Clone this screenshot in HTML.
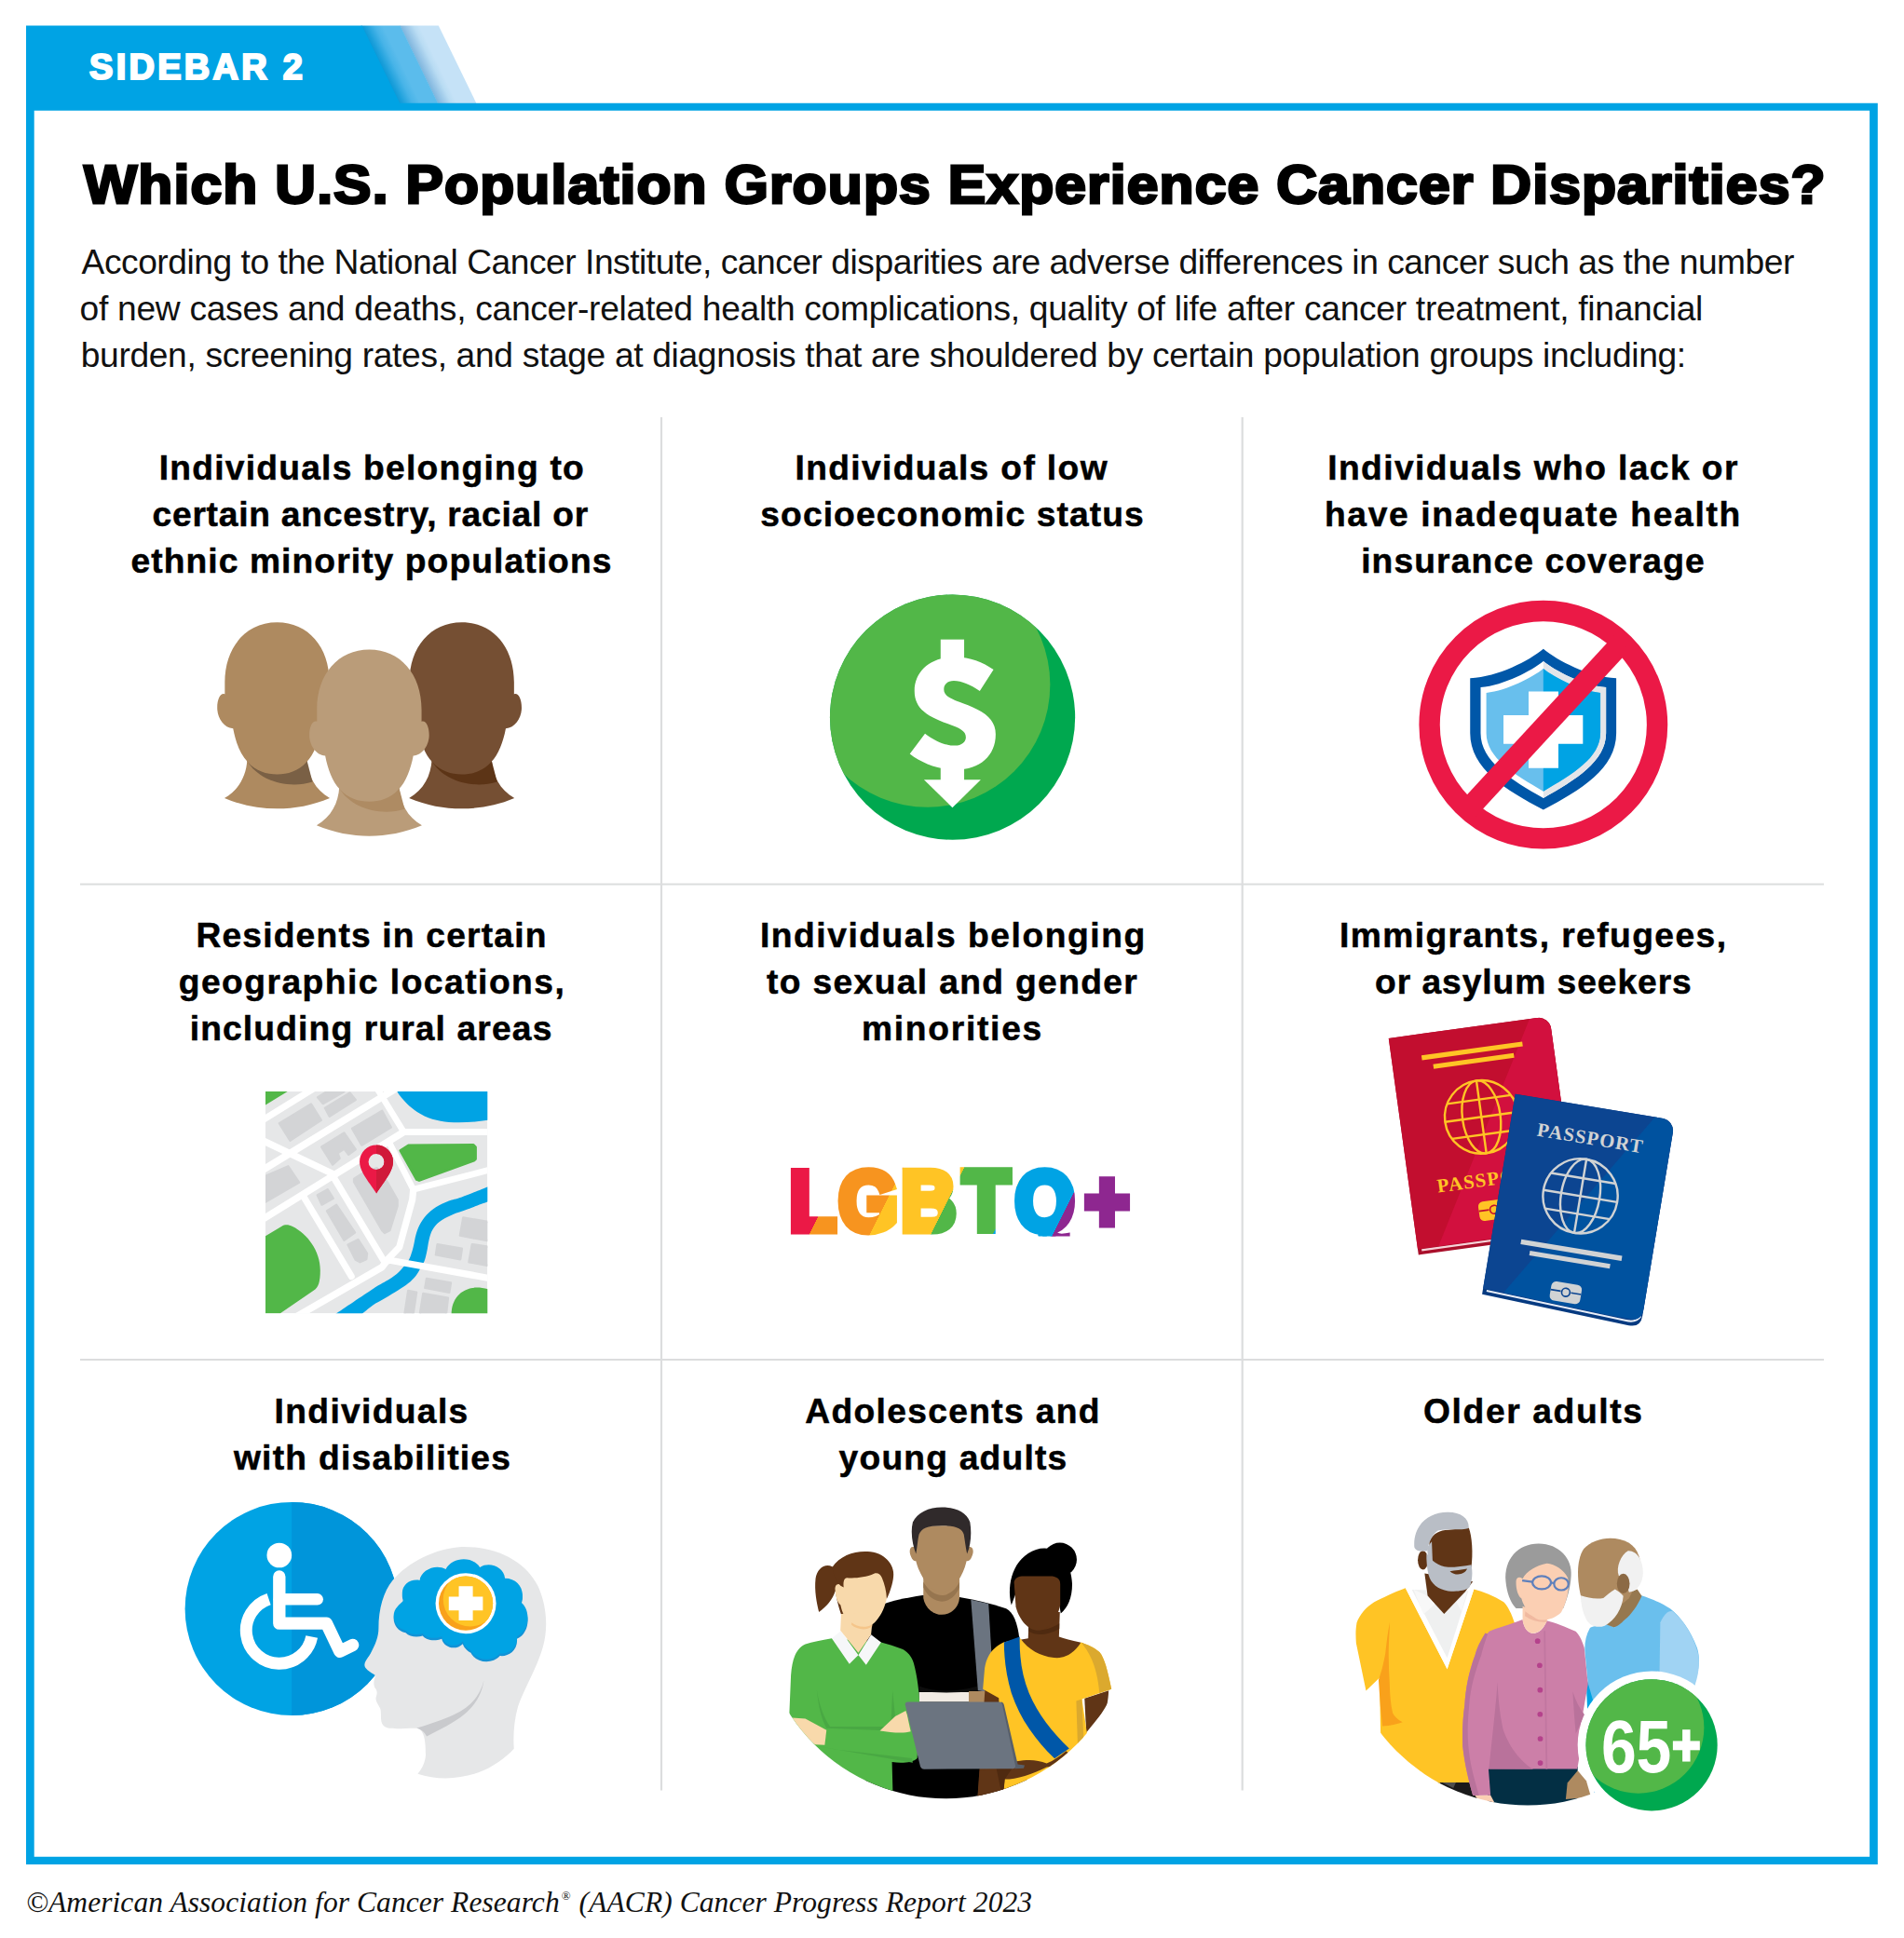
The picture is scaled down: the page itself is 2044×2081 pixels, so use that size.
<!DOCTYPE html>
<html lang="en">
<head>
<meta charset="utf-8">
<title>Sidebar 2 - Which U.S. Population Groups Experience Cancer Disparities?</title>
<style>
html,body{margin:0;padding:0;background:#fff;}
body{width:2044px;height:2081px;position:relative;overflow:hidden;font-family:"Liberation Sans",sans-serif;color:#000;}
.abs{position:absolute;}
#bg{position:absolute;left:0;top:0;}
.tab{position:absolute;left:96px;top:42.5px;font-weight:bold;font-size:38px;line-height:58px;color:#fff;white-space:nowrap;letter-spacing:3.28px;-webkit-text-stroke:2.2px #fff;}
h1{position:absolute;margin:0;left:89.8px;top:159.6px;font-weight:bold;font-size:58px;line-height:76px;white-space:nowrap;letter-spacing:1.06px;-webkit-text-stroke:2.8px #000;transform:scaleX(1.045);transform-origin:0 0;}
.intro{position:absolute;left:87px;top:255.5px;margin:0;font-size:37.2px;line-height:50px;white-space:nowrap;color:#111;letter-spacing:-0.48px;}
.intro span{display:block;}
.t{position:absolute;width:624px;text-align:center;font-weight:bold;font-size:37.2px;line-height:49.9px;white-space:nowrap;-webkit-text-stroke:0.5px #000;}
.t span{display:block;position:relative;}
.c1{left:86px}.c2{left:710px}.c3{left:1333.5px}
.r1{top:478.2px}.r2{top:979.8px}.r3{top:1491px}
.foot{position:absolute;left:28px;top:2022.5px;font-family:"Liberation Serif",serif;font-style:italic;font-size:31.5px;line-height:40px;white-space:nowrap;color:#111;letter-spacing:0.07px;}
.foot sup{font-size:13px;font-style:normal;vertical-align:baseline;position:relative;top:-12.5px;line-height:0;margin:0 1px 0 2px;}
svg{display:block;overflow:visible;}
.ic{position:absolute;}
</style>
</head>
<body>
<svg id="bg" width="2044" height="2081" viewBox="0 0 2044 2081">
  <defs>
    <linearGradient id="tg1" x1="0" y1="0" x2="1" y2="0">
      <stop offset="0" stop-color="#0b98d6"/><stop offset="0.1" stop-color="#1a9fdb"/><stop offset="0.35" stop-color="#48b4e8"/><stop offset="0.55" stop-color="#5bbcec"/><stop offset="1" stop-color="#5bbcec"/>
    </linearGradient>
    <linearGradient id="tg2" x1="0" y1="0" x2="1" y2="0">
      <stop offset="0" stop-color="#7db5dd"/><stop offset="0.12" stop-color="#93c2e5"/><stop offset="0.35" stop-color="#b9dcf3"/><stop offset="0.5" stop-color="#c5e2f7"/><stop offset="1" stop-color="#c5e2f7"/>
    </linearGradient>
  </defs>
  <!-- tab -->
  <g transform="translate(0,27.4) skewX(25.93)">
    <rect x="429.2" y="0" width="41.6" height="84" fill="url(#tg2)"/>
    <rect x="387.6" y="0" width="42" height="84" fill="url(#tg1)"/>
  </g>
  <polygon points="28,27.4 388.5,27.4 429.4,111.2 28,111.2" fill="#00a3e4"/>
  <!-- frame -->
  <path fill="#00a3e4" fill-rule="evenodd" d="M28,110.7H2015.8V2002H28Z M36.7,118.8V1993.7H2007.1V118.8Z"/>
  <!-- grid -->
  <g stroke="#dcddde" stroke-width="2.2">
    <line x1="710" y1="448" x2="710" y2="1922.5"/>
    <line x1="1333.7" y1="448" x2="1333.7" y2="1922.5"/>
    <line x1="86" y1="949.5" x2="1958" y2="949.5"/>
    <line x1="86" y1="1460" x2="1958" y2="1460"/>
  </g>
</svg>
<div class="tab">SIDEBAR 2</div>
<h1>Which U.S. Population Groups Experience Cancer Disparities?</h1>
<p class="intro"><span id="p1" style="letter-spacing:-0.473px;margin-left:0.6px">According to the National Cancer Institute, cancer disparities are adverse differences in cancer such as the number</span><span id="p2" style="letter-spacing:-0.299px;margin-left:-1.4px">of new cases and deaths, cancer-related health complications, quality of life after cancer treatment, financial</span><span id="p3" style="letter-spacing:-0.338px;margin-left:-0.3px">burden, screening rates, and stage at diagnosis that are shouldered by certain population groups including:</span></p>
<div class="t c1 r1">
<span style="letter-spacing:1.23px;left:1.4px">Individuals belonging to</span>
<span style="letter-spacing:0.76px;left:-0.3px">certain ancestry, racial or</span>
<span style="letter-spacing:1.09px;left:1.0px">ethnic minority populations</span>
</div>
<div class="t c2 r1">
<span style="letter-spacing:1.36px;left:-0.3px">Individuals of low</span>
<span style="letter-spacing:1.10px;left:0.6px">socioeconomic status</span>
</div>
<div class="t c3 r1">
<span style="letter-spacing:1.41px;left:0.5px">Individuals who lack or</span>
<span style="letter-spacing:1.67px;left:0.4px">have inadequate health</span>
<span style="letter-spacing:1.13px;left:0.5px">insurance coverage</span>
</div>
<div class="t c1 r2">
<span style="letter-spacing:1.19px;left:1.0px">Residents in certain</span>
<span style="letter-spacing:1.49px;left:1.5px">geographic locations,</span>
<span style="letter-spacing:1.14px;left:0.6px">including rural areas</span>
</div>
<div class="t c2 r2">
<span style="letter-spacing:1.55px;left:1.3px">Individuals belonging</span>
<span style="letter-spacing:1.36px;left:0.6px">to sexual and gender</span>
<span style="letter-spacing:1.73px;left:0.5px">minorities</span>
</div>
<div class="t c3 r2">
<span style="letter-spacing:1.43px;left:0.7px">Immigrants, refugees,</span>
<span style="letter-spacing:0.94px;left:0.9px">or asylum seekers</span>
</div>
<div class="t c1 r3">
<span style="letter-spacing:1.34px;left:1.1px">Individuals</span>
<span style="letter-spacing:1.26px;left:2.1px">with disabilities</span>
</div>
<div class="t c2 r3">
<span style="letter-spacing:1.33px;left:1.1px">Adolescents and</span>
<span style="letter-spacing:1.20px;left:1.5px">young adults</span>
</div>
<div class="t c3 r3">
<span style="letter-spacing:1.62px;left:0.8px">Older adults</span>
</div>
<svg id="icons" class="abs" style="left:0;top:0" width="2044" height="2081" viewBox="0 0 2044 2081">
<!-- icon 1: three heads -->
<defs>
  <path id="hd-face" d="M0,0 C176,0 297,140 297,340 L297,408 C318,398 340,430 340,485 C340,540 305,598 250,603 C235,680 210,750 167,793 C120,845 60,863 0,863 C-60,863 -120,845 -167,793 C-210,750 -235,680 -250,603 C-305,598 -340,540 -340,485 C-340,430 -318,398 -297,408 L-297,340 C-297,140 -176,0 0,0Z"/>
  <path id="hd-neck" d="M-170,780 L170,780 C175,870 215,950 299,998 C200,1040 100,1058 0,1058 C-100,1058 -200,1040 -299,998 C-215,950 -175,870 -170,780Z"/>
  <path id="hd-shadow" d="M-170,786 C-110,895 60,950 201,905 L168,780Z"/>
</defs>
<g transform="translate(297.5,668.3) scale(0.18907)">
  <use href="#hd-neck" fill="#ae8a60"/><use href="#hd-shadow" fill="#7a6045"/><use href="#hd-face" fill="#ae8a60"/>
</g>
<g transform="translate(495.7,668.3) scale(0.18907)">
  <use href="#hd-neck" fill="#754f33"/><use href="#hd-shadow" fill="#5c3416"/><use href="#hd-face" fill="#754f33"/>
</g>
<g transform="translate(396.4,697.6) scale(0.18907)">
  <use href="#hd-neck" fill="#ba9c79"/><use href="#hd-shadow" fill="#ae8b63"/><use href="#hd-face" fill="#ba9c79"/>
</g>
<!-- icon 2: dollar down -->
<defs>
  <clipPath id="dl-clip"><circle cx="936" cy="920" r="864"/></clipPath>
</defs>
<g transform="translate(880,630) scale(0.15231)">
  <circle cx="936" cy="920" r="864" fill="#00a84f"/>
  <circle cx="760" cy="690" r="864" fill="#52b748" clip-path="url(#dl-clip)"/>
  <g fill="#fff">
    <rect x="852" y="372" width="166" height="160"/>
    <rect x="852" y="1260" width="166" height="112"/>
    <polygon points="735,1360 1135,1360 935,1557"/>
    <path d="M1225,585 L1128,735 C1060,690 1000,663 945,663 C900,663 875,690 875,722 C875,770 920,790 1010,822 C1150,872 1240,930 1240,1040 C1240,1190 1130,1290 960,1290 C840,1290 720,1245 635,1178 L742,1035 C810,1085 880,1120 955,1120 C1000,1120 1030,1095 1030,1062 C1030,1015 985,995 900,965 C760,915 668,860 668,735 C668,590 790,495 955,495 C1060,495 1150,530 1225,585Z"/>
  </g>
</g>
<!-- icon 3: no health insurance -->
<defs>
  <clipPath id="sh-r"><rect x="964" y="300" width="700" height="1400"/></clipPath>
  <path id="sh-mid" d="M964,492 C880,560 690,660 522,677 L522,1000 C522,1200 740,1330 964,1458 C1188,1330 1406,1200 1406,1000 L1406,677 C1238,660 1048,560 964,492Z"/>
  <path id="sh-in" d="M964,545 C890,605 710,700 562,715 L562,1000 C562,1175 760,1290 964,1410 C1168,1290 1366,1175 1366,1000 L1366,715 C1218,700 1038,605 964,545Z"/>
</defs>
<g transform="translate(1510,635) scale(0.15231)">
  <path fill="#0057a8" d="M964,405 C860,490 650,600 448,612 L448,1000 C448,1250 700,1400 964,1540 C1228,1400 1478,1250 1478,1000 L1478,612 C1278,600 1068,490 964,405Z"/>
  <use href="#sh-mid" fill="#fff"/>
  <use href="#sh-mid" fill="#e3e5e9" clip-path="url(#sh-r)"/>
  <use href="#sh-in" fill="#68bfed"/>
  <use href="#sh-in" fill="#00a3e4" clip-path="url(#sh-r)"/>
  <path fill="#fff" d="M860,705H1070V873H1243V1075H1070V1245H860V1075H683V873H860Z"/>
  <circle cx="964" cy="940" r="802.5" fill="none" stroke="#eb1946" stroke-width="147"/>
  <line x1="1516" y1="362" x2="432" y2="1538" stroke="#eb1946" stroke-width="150"/>
</g>
<!-- icon 4: map -->
<defs><clipPath id="mp-clip"><rect x="285.0" y="1172.1" width="238.3" height="238.2"/></clipPath><clipPath id="mp-pr"><rect x="404.05" y="1220" width="30" height="70"/></clipPath></defs>
<g clip-path="url(#mp-clip)">
<rect x="285.0" y="1172.1" width="238.3" height="238.2" fill="#e6e7e8"/>
<g fill="#d3d4d6" stroke="#d3d4d6" stroke-width="2.4" stroke-linejoin="round">
<polygon points="299.8,1206.2 333.9,1185.4 344.8,1202.8 311.4,1224.7"/>
<polygon points="341.1,1178.2 351.0,1172.1 369.4,1172.1 346.6,1185.1"/>
<polygon points="348.9,1189.8 375.6,1173.5 381.7,1181.0 353.7,1198.7"/>
<polygon points="378.1,1211.9 410.2,1192.8 419.8,1210.5 388.3,1229.6"/>
<polygon points="345.2,1231.5 369.4,1216.5 381.7,1234.2 374.2,1239.7 369.4,1233.5 362.6,1238.3 364.6,1243.8 357.1,1250.6"/>
<polygon points="280.0,1265.0 309.4,1252.3 321.0,1269.7 280.0,1293.5"/>
<polygon points="340.8,1283.4 351.7,1277.2 357.8,1286.8 345.5,1293.6"/>
<polygon points="351.0,1300.3 361.2,1293.8 381.0,1323.5 369.4,1331.7"/>
<polygon points="373.5,1336.5 384.4,1331.0 394.0,1346.0 393.3,1352.2 386.5,1355.2 381.7,1352.8"/>
<polygon points="380.1,1265.8 388.3,1260.4 404.7,1254.2 415.7,1269.2 426.6,1288.4 426.6,1295.2 418.4,1321.1 412.9,1323.9 410.2,1321.1 380.1,1269.2"/>
<polygon points="497.3,1307.5 530.0,1313.0 530.0,1333.5 493.9,1326.6"/>
<polygon points="469.6,1336.1 495.9,1340.6 494.2,1352.2 467.9,1347.4"/>
<polygon points="506.8,1336.1 530.0,1339.5 530.0,1360.0 503.4,1355.2"/>
<polygon points="458.0,1373.0 484.0,1377.4 482.3,1387.7 456.3,1382.9"/>
<polygon points="438.2,1386.0 447.1,1387.7 443.0,1415.0 433.8,1415.0"/>
<polygon points="454.3,1389.0 480.9,1393.8 478.5,1415.0 450.2,1415.0"/>
</g>
<g fill="#00a3e4">
<path d="M424.9,1170 C431,1180 440,1189 447.8,1193.9 C458,1200.5 470,1204 481.9,1204.9 C495,1205.8 510,1205 525,1202.6 L525,1170Z"/>
<path d="M525.0,1273.8 C520.1,1275.7 502.8,1282.8 495.6,1285.4 C488.4,1288.0 486.4,1287.7 481.9,1289.5 C477.3,1291.3 472.3,1293.5 468.3,1296.0 C464.3,1298.5 461.0,1301.3 458.0,1304.5 C455.0,1307.7 452.4,1311.7 450.5,1315.3 C448.6,1318.9 447.4,1322.8 446.4,1326.2 C445.4,1329.6 445.1,1332.8 444.4,1335.8 C443.7,1338.8 443.2,1341.3 442.3,1344.0 C441.4,1346.7 440.6,1349.7 439.2,1352.2 C437.8,1354.8 436.3,1356.7 434.1,1359.3 C431.9,1361.9 429.3,1365.1 425.9,1367.9 C422.5,1370.7 418.0,1373.4 413.7,1376.1 C409.4,1378.8 408.9,1378.4 400.0,1384.2 C391.1,1390.0 366.8,1406.5 360.2,1411.0 L388.5,1411.0 C390.4,1409.5 395.8,1404.6 400.0,1401.7 C404.2,1398.8 409.1,1396.5 413.7,1393.8 C418.2,1391.1 423.2,1388.2 427.3,1385.6 C431.4,1383.0 435.0,1380.7 438.2,1378.1 C441.4,1375.5 444.3,1372.5 446.4,1369.9 C448.5,1367.3 449.5,1365.1 450.9,1362.7 C452.3,1360.3 453.9,1357.8 454.9,1355.6 C455.9,1353.4 456.3,1352.0 457.0,1349.4 C457.7,1346.8 458.4,1343.1 459.0,1339.9 C459.6,1336.7 459.9,1333.5 460.8,1330.3 C461.7,1327.1 462.4,1323.9 464.2,1320.8 C466.0,1317.7 468.2,1314.6 471.7,1311.9 C475.2,1309.2 480.2,1306.7 485.3,1304.4 C490.4,1302.1 495.8,1300.6 502.4,1298.2 C509.0,1295.8 521.2,1291.4 525.0,1290.0 Z"/>
</g>
<g fill="#52b748">
<polygon points="285.0,1172.1 308.7,1172.1 285.0,1186.4"/>
<polygon stroke="#52b748" stroke-width="3" stroke-linejoin="round" points="430.0,1235.4 438.6,1229.9 508.2,1229.6 510.4,1231.8 510.4,1244.6 508.6,1246.2 450.0,1267.4 447.4,1266.4"/>
<path d="M280,1330.3 L302.5,1316.7 C305.5,1314.9 309.5,1314.6 314.1,1317 C330,1325 343.8,1343 343.8,1364 C343.8,1376 342,1382.5 337,1385.6 L300.5,1410.5 L280,1410.5Z"/>
<path d="M484.6,1411 C484.6,1395 495,1382.6 512,1382.6 C516,1382.6 520,1383.3 525,1384.4 L525,1411Z"/>
</g>
<g fill="none" stroke="#fff" stroke-linejoin="round" stroke-linecap="round">
<polyline points="270.0,1210.1 355.1,1157.5" stroke-width="7.0"/>
<polyline points="270.0,1263.6 419.8,1172.1 428.0,1167.0" stroke-width="7.6"/>
<polyline points="400.0,1161.8 406.8,1172.1 433.4,1215.5" stroke-width="6.6"/>
<polyline points="433.4,1215.5 530.0,1215.5" stroke-width="6.9"/>
<polyline points="270.0,1316.6 433.4,1215.5" stroke-width="7.4"/>
<polyline points="270.0,1218.9 359.4,1261.5" stroke-width="7.4"/>
<polyline points="356.6,1261.5 372.5,1288.0 411.2,1352.5 414.0,1355.0" stroke-width="7.2"/>
<polyline points="324.7,1282.9 377.3,1370.6" stroke-width="7.0"/>
<polyline points="310.0,1418.5 410.0,1360.7 414.0,1355.5" stroke-width="7.4"/>
<polyline points="414.0,1354.5 418.4,1353.2 530.0,1373.4" stroke-width="7.2"/>
<polyline points="443.7,1277.2 442.7,1288.0 428.7,1339.2 414.0,1354.5" stroke-width="7.2"/>
<polyline points="417.7,1226.5 443.7,1277.2" stroke-width="6.6"/>
<polyline points="443.7,1277.2 530.0,1255.0" stroke-width="6.8"/>
</g>
</g>
<path fill="#eb1946" fill-rule="evenodd" d="M404.05,1281.6 C399,1272.5 386.05,1259 386.05,1247.4 A18,18 0 1 1 422.05,1247.4 C422.05,1259 409.1,1272.5 404.05,1281.6Z M404.05,1238.9 A8.5,8.5 0 1 0 404.05,1255.9 A8.5,8.5 0 1 0 404.05,1238.9Z"/>
<path fill="#d01a3a" fill-rule="evenodd" clip-path="url(#mp-pr)" d="M404.05,1281.6 C399,1272.5 386.05,1259 386.05,1247.4 A18,18 0 1 1 422.05,1247.4 C422.05,1259 409.1,1272.5 404.05,1281.6Z M404.05,1238.9 A8.5,8.5 0 1 0 404.05,1255.9 A8.5,8.5 0 1 0 404.05,1238.9Z"/>
<!-- icon 5: LGBTQ+ -->
<defs>
  <linearGradient id="lg-grad" gradientUnits="userSpaceOnUse" x1="0" y1="0" x2="1698.1" y2="943.4">
    <stop offset="0" stop-color="#eb1946"/><stop offset="0.76565" stop-color="#eb1946"/>
    <stop offset="0.76565" stop-color="#f7941f"/><stop offset="0.7982" stop-color="#f7941f"/>
    <stop offset="0.7982" stop-color="#ffc425"/><stop offset="0.8311" stop-color="#ffc425"/>
    <stop offset="0.8311" stop-color="#52b748"/><stop offset="0.86415" stop-color="#52b748"/>
    <stop offset="0.86415" stop-color="#00a3e4"/><stop offset="0.89645" stop-color="#00a3e4"/>
    <stop offset="0.89645" stop-color="#8e2790"/><stop offset="1" stop-color="#8e2790"/>
  </linearGradient>
  <clipPath id="lg-clip"><rect x="900" y="1230" width="500" height="97.5"/></clipPath>
</defs>
<g transform="scale(0.9,1)" clip-path="url(#lg-clip)">
  <text x="941.7 1000.2 1074.8 1148.6 1210.8 1293.8" y="1321.1" font-family="'Liberation Sans',sans-serif" font-weight="bold" font-size="91" fill="url(#lg-grad)" stroke="url(#lg-grad)" stroke-width="9" stroke-linejoin="miter">LGBTQ+</text>
</g>
<!-- icon 6: passports -->
<defs><clipPath id="pr-c"><path d="M0,0 H863 A75,75 0 0 1 938,75 V1155 Q938,1230 863,1230.0 L0,1230 Z"/></clipPath></defs>
<g transform="translate(1490.77,1114.91) rotate(-7.85) scale(0.1857)">
<path d="M0,0 H868 A70,70 0 0 1 938,70 V1194 Q938,1264 868,1264.0 L0,1264 Z" fill="#a90f2a"/>
<path d="M22,1234 L843,1234 C888,1234 913,1219 926,1189 L932,1202 C918,1232 888,1245 843,1245 L22,1245Z" fill="#f6d3d9"/>
<path d="M0,0 H863 A75,75 0 0 1 938,75 V1155 Q938,1230 863,1230.0 L0,1230 Z" fill="#c20e2f"/>
<polygon clip-path="url(#pr-c)" points="822,0 943,0 943,1264 102,1264" fill="#d2103e"/>
<rect x="174" y="124" width="588" height="28" fill="#ffc425"/><rect x="234" y="183" width="470" height="28" fill="#ffc425"/>
<g fill="none" stroke="#ffc425" stroke-width="13"><circle cx="469.0" cy="524" r="212"/><ellipse cx="469.0" cy="524" rx="110" ry="212"/><line x1="469.0" y1="312" x2="469.0" y2="736"/><line x1="257.0" y1="524" x2="681.0" y2="524"/><line x1="283" y1="422" x2="655" y2="422"/><line x1="283" y1="626" x2="655" y2="626"/></g>
<text x="469.0" y="923" text-anchor="middle" font-family="'Liberation Serif',serif" font-weight="bold" font-size="112" textLength="616" lengthAdjust="spacing" fill="#ffc425">PASSPORT</text>
<rect x="380.0" y="1010.0" width="178" height="112" rx="28" fill="#ffc425"/><g fill="none" stroke="#c20e2f" stroke-width="9"><path d="M380.0,1062 H439.0 M499.0,1062 H558.0"/><circle cx="469.0" cy="1064" r="24"/></g>
</g>
<defs><clipPath id="pb-c"><path d="M0,0 H860 A75,75 0 0 1 935,75 V1107 Q935,1182 860,1178.6310160427809 L0,1140 Z"/></clipPath></defs>
<g transform="translate(1626.7,1174.7) rotate(9.4) scale(0.1857)">
<path d="M0,0 H865 A70,70 0 0 1 935,70 V1146 Q935,1216 865,1212.855614973262 L0,1174 Z" fill="#063a80"/>
<path d="M22,1144 L840,1182 C885,1186 910,1171 923,1141 L929,1154 C915,1184 885,1197 840,1193 L22,1155Z" fill="#e8eef8"/>
<path d="M0,0 H860 A75,75 0 0 1 935,75 V1107 Q935,1182 860,1178.6310160427809 L0,1140 Z" fill="#0c4591"/>
<polygon clip-path="url(#pb-c)" points="819,0 940,0 940,1174 102,1174" fill="#00529f"/>
<text x="467.5" y="218" text-anchor="middle" font-family="'Liberation Serif',serif" font-weight="bold" font-size="112" textLength="616" lengthAdjust="spacing" fill="#d1d3d4">PASSPORT</text>
<g fill="none" stroke="#d1d3d4" stroke-width="13"><circle cx="467.5" cy="521" r="216"/><ellipse cx="467.5" cy="521" rx="112" ry="216"/><line x1="467.5" y1="305" x2="467.5" y2="737"/><line x1="251.5" y1="521" x2="683.5" y2="521"/><line x1="278" y1="417" x2="657" y2="417"/><line x1="278" y1="625" x2="657" y2="625"/></g>
<rect x="172" y="823" width="591" height="29" fill="#d1d3d4"/><rect x="232" y="880" width="471" height="28" fill="#d1d3d4"/>
<rect x="386.5" y="1030.0" width="178" height="112" rx="28" fill="#d1d3d4"/><g fill="none" stroke="#0c4591" stroke-width="9"><path d="M386.5,1082 H445.5 M505.5,1082 H564.5"/><circle cx="475.5" cy="1084" r="24"/></g>
</g>
<!-- icon 7: disabilities -->
<defs>
  <clipPath id="ds-r"><rect x="572" y="0" width="600" height="1200"/></clipPath>
  <clipPath id="ds-m"><circle cx="1440" cy="565" r="135"/></clipPath>
  <path id="ds-brain" d="M1140,700 C1085,690 1060,620 1100,580 C1120,560 1125,560 1130,545 C1105,490 1150,440 1210,450 C1215,400 1290,365 1340,395 C1370,335 1470,325 1510,385 C1560,355 1630,385 1635,440 C1700,440 1740,500 1715,560 C1765,600 1760,700 1695,730 C1700,790 1650,820 1610,815 C1570,860 1490,850 1465,800 C1440,785 1430,770 1425,755 C1390,790 1330,775 1320,730 C1280,745 1240,735 1225,715 C1195,725 1160,720 1140,700Z"/>
</defs>
<g transform="translate(190,1600) scale(0.21533)">
  <circle cx="572" cy="592" r="532" fill="#00a3e4"/>
  <circle cx="572" cy="592" r="532" fill="#0095da" clip-path="url(#ds-r)"/>
  <g fill="none" stroke="#fff" stroke-linecap="round" stroke-linejoin="round">
    <path d="M457.9,543.4 A165,165 0 1 0 672,731.5" stroke-width="60" stroke-linecap="butt"/>
    <path d="M510,432 L510,665 L745,665 L812,805 L876,773" stroke-width="62"/>
    <path d="M510,545 L700,545" stroke-width="58"/>
  </g>
  <circle cx="510" cy="325" r="62" fill="#fff"/>
  <!-- head -->
  <path fill="#e6e7e8" d="M1420,283 C1290,290 1150,360 1075,450 C1030,505 1005,590 1005,690 C1005,730 990,770 965,815 C950,840 935,855 935,872 C935,892 960,905 990,925 C980,950 978,970 988,988 C998,1000 1000,1010 992,1035 C988,1055 1010,1075 1015,1095 C1020,1130 1010,1160 1035,1180 C1060,1198 1150,1185 1200,1188 C1235,1200 1240,1260 1240,1320 C1238,1360 1220,1390 1200,1415 C1290,1445 1400,1445 1500,1410 C1570,1385 1640,1335 1680,1290 C1675,1230 1680,1150 1700,1080 C1730,990 1790,900 1825,780 C1850,690 1845,580 1800,480 C1740,360 1600,280 1420,283Z"/>
  <path fill="#c9cacd" d="M1530,950 C1510,1030 1460,1085 1380,1120 C1320,1148 1250,1170 1195,1187 C1220,1195 1235,1210 1245,1228 C1310,1195 1380,1160 1430,1120 C1490,1072 1520,1015 1530,950Z"/>
  <!-- brain -->
  <use href="#ds-brain" fill="#1292d6" transform="translate(0,12)"/>
  <use href="#ds-brain" fill="#00a3e4"/>
  <circle cx="1440" cy="565" r="151" fill="#fff"/>
  <circle cx="1440" cy="565" r="135" fill="#f9a11b"/>
  <circle cx="1462" cy="545" r="135" fill="#ffc425" clip-path="url(#ds-m)"/>
  <path fill="#fff" d="M1405,480H1475V532H1525V600H1475V650H1405V600H1355V532H1405Z"/>
</g>
<!-- icon 8: adolescents and young adults -->
<defs><clipPath id="ya-clip"><circle cx="925.6" cy="645.3" r="1054"/></clipPath></defs>
<g transform="translate(840,1610) scale(0.18907)" clip-path="url(#ya-clip)">
  <!-- man -->
  <path fill="#000" d="M795,545 C700,560 620,575 560,600 C500,640 470,760 470,900 L470,1800 L1400,1800 L1345,790 C1335,700 1310,640 1270,620 C1180,590 1090,570 1005,555Z"/>
  <path fill="#f1ebe4" d="M775,1095 H1062 V1150 H775Z"/>
  <path fill="#0d0d0d" d="M775,1060 C870,1095 980,1095 1110,1060 L1110,1088 C980,1100 870,1100 775,1088Z"/>
  <path fill="#6b7480" d="M1070,570 L1170,592 L1200,1100 L1110,1085Z"/>
  <path fill="#ae8a60" d="M1058,1090 H1160 V1160 H1058Z"/>
  <path fill="#ae8a60" d="M800,440 L800,560 C810,620 860,655 905,655 C950,655 1000,620 1005,560 L1005,440Z"/>
  <path fill="#96754f" d="M800,470 C830,520 870,545 905,545 C940,545 980,520 1005,470 L1005,500 C985,550 945,580 905,580 C865,580 820,550 800,500Z"/>
  <path fill="#ae8a60" d="M745,270 C720,265 718,300 730,325 C738,345 750,352 758,350 C775,420 830,520 905,525 C980,520 1030,420 1045,350 C1055,352 1068,345 1075,325 C1088,300 1085,265 1060,270 L1040,150 L770,150Z"/>
  <path fill="#302a2b" d="M758,310 C740,260 725,190 740,130 C765,75 830,45 905,45 C980,45 1045,70 1065,130 C1075,190 1070,260 1048,310 C1040,270 1035,230 1030,200 C1020,165 990,150 905,150 C820,150 790,165 775,200 C768,230 765,270 758,310Z"/>
  <!-- girl right -->
  <circle cx="1575" cy="342" r="96" fill="#000"/>
  <path fill="#000" d="M1300,600 C1270,480 1310,330 1440,285 C1560,250 1640,350 1645,480 C1645,560 1620,615 1580,648 L1560,520 L1330,520Z"/>
  <path fill="#603516" d="M1400,640 L1395,790 C1330,800 1290,810 1255,815 L1200,900 L1200,1000 L1800,1000 L1800,870 C1760,840 1710,820 1690,812 C1640,800 1600,790 1570,780 L1575,640Z"/>
  <path fill="#4f2a10" d="M1398,720 C1440,750 1500,750 1572,705 L1572,735 C1500,775 1440,775 1397,748Z"/>
  <path fill="#603516" d="M1315,470 C1320,445 1340,436 1370,436 L1520,436 C1555,436 1577,450 1577,480 L1577,600 C1560,690 1500,745 1450,745 C1400,745 1345,690 1325,610Z"/>
  <path fill="#603516" d="M1150,1080 L1230,1120 L1260,1800 L1100,1800Z"/>
  <path fill="#603516" d="M1715,1130 L1852,1085 C1850,1130 1845,1160 1838,1185 L1725,1325Z"/>
  <path fill="#ffc425" d="M1255,812 C1200,840 1160,880 1148,960 L1138,1078 L1228,1128 L1262,1800 L1800,1800 L1700,1135 L1868,1078 C1850,990 1830,900 1800,868 C1770,840 1730,825 1695,812 C1660,870 1610,900 1560,900 C1480,900 1400,860 1350,790Z"/>
  <path fill="#dba92e" d="M1695,812 C1730,825 1770,840 1800,868 C1830,900 1850,990 1868,1078 L1800,1100 C1790,1000 1770,900 1695,812Z"/>
  <path fill="#dba92e" d="M1700,1135 L1668,1145 L1690,1800 L1730,1800Z"/>
  <path fill="#0057a8" d="M1258,812 L1347,780 C1345,900 1360,1000 1400,1100 C1450,1220 1530,1320 1628,1415 L1545,1472 C1440,1370 1350,1250 1300,1100 C1270,1000 1258,900 1258,812Z"/>
  <path fill="#603516" d="M1120,1540 C1200,1530 1280,1495 1330,1488 C1400,1475 1450,1480 1500,1500 C1540,1485 1580,1455 1610,1430 L1700,1500 L1500,1520 C1420,1560 1330,1590 1262,1590 L1245,1800 L1100,1800Z"/>
  <path fill="#4f2a10" d="M1215,1530 L1330,1490 L1262,1590 L1250,1700Z"/>
  <!-- girl left -->
  <path fill="#603516" d="M283,382 C240,360 195,395 188,450 C180,520 195,590 207,640 C250,610 285,570 300,520 C310,580 325,640 345,680 L400,600 L345,450Z"/>
    <path fill="#f8d9ab" d="M300,520 C295,490 310,475 330,485 L345,410 L580,400 L595,540 C585,640 520,730 460,732 C400,732 345,680 330,600 C315,590 302,560 300,520Z"/>
  <path fill="#603516" d="M283,385 C330,315 420,288 500,298 C590,310 645,380 628,455 C620,500 605,540 592,565 C590,520 580,480 565,445 C555,425 540,415 520,422 C470,445 400,450 365,445 C345,448 345,480 348,500 L330,490 C310,470 290,440 283,385Z"/>
  <path fill="#52b748" d="M280,790 C220,800 170,810 130,822 C80,845 55,900 48,1000 L38,1240 L38,1800 L630,1800 L622,1492 C680,1500 740,1495 765,1470 L780,1200 C778,1100 765,1000 745,930 C730,880 700,860 680,850 C640,835 600,822 560,812Z"/>
  <path fill="#49a843" d="M195,1085 C205,1170 215,1230 250,1300 L560,1312 L640,1235 L625,1085 L615,1290 L270,1290 C235,1240 210,1170 195,1085Z"/>
  <path fill="#49a843" d="M190,1400 L740,1495 L735,1470 L300,1420Z"/>
  <path fill="#f6f7f9" d="M335,745 L280,790 L380,935 L431,884 L329,744Z M503,768 L431,884 L475,940 L560,812Z"/>
  <path fill="#f8d9ab" d="M333,650 L329,744 L431,872 L503,768 L510,700 L520,640Z"/>
  <path fill="#f5c58a" d="M392,700 C420,722 470,735 510,710 L509,722 C470,750 420,737 392,713Z"/>
  <path fill="#f8d9ab" d="M55,1240 L130,1245 L250,1310 L240,1395 L185,1393 C130,1350 85,1300 55,1240Z"/>
  <path fill="#f8d9ab" d="M553,1314 L640,1232 L700,1200 L708,1225 L728,1318 C690,1330 620,1325 553,1314Z"/>
  <!-- laptop -->
  <path fill="#585f69" d="M1240,1150 C1250,1150 1256,1158 1258,1168 L1336,1505 L1375,1510 L1370,1527 L1320,1530Z"/>
  <path fill="#6b7480" d="M712,1150 L1232,1150 C1242,1150 1246,1156 1248,1166 L1322,1510 C1324,1522 1320,1530 1308,1530 L805,1532 C792,1532 786,1526 782,1514 L698,1172 C694,1158 700,1150 712,1150Z"/>
</g>
<!-- icon 9: older adults -->
<defs>
  <clipPath id="oa-clip"><circle cx="906.6" cy="584.8" r="904.3"/></clipPath>
  <clipPath id="oa-b"><circle cx="1510" cy="1196" r="320"/></clipPath>
</defs>
<g transform="translate(1440,1610) scale(0.2206)">
 <g clip-path="url(#oa-clip)">
  <!-- man right (blue) -->
  <path fill="#6abfed" d="M1290,608 C1250,612 1225,618 1210,626 C1190,660 1183,700 1185,740 L1200,900 L1235,1500 L1800,1500 L1720,895 C1745,820 1745,760 1730,720 C1700,640 1650,570 1600,532 C1560,505 1500,480 1460,468 L1330,622Z"/>
  <path fill="#a0d3f3" d="M1552,600 C1570,560 1590,540 1612,545 C1670,590 1720,680 1738,760 C1745,810 1735,860 1722,900 L1548,862Z"/>
  <path fill="#00a3e4" d="M1190,860 L1228,990 L1240,1200 L1205,1200Z"/>
  <path fill="#96784f" d="M1372,468 L1440,438 L1462,470 C1440,520 1410,560 1380,585 C1360,605 1340,622 1325,622 L1285,608Z"/>
  <path fill="#ae8a60" d="M1168,482 C1148,400 1140,300 1180,240 C1230,185 1330,172 1400,212 C1445,240 1462,300 1460,362 L1400,482 L1300,562Z"/>
  <path fill="#f1f1f1" d="M1395,250 C1440,248 1470,300 1468,360 C1465,410 1440,446 1400,452 C1392,420 1372,382 1350,372 C1335,330 1360,270 1395,250Z"/>
  <ellipse cx="1372" cy="410" rx="31" ry="48" fill="#8c6a45"/>
  <path fill="#f1f1f1" d="M1165,468 C1200,480 1240,486 1275,480 C1290,470 1310,450 1332,438 C1345,445 1360,458 1372,470 C1368,530 1330,590 1282,615 C1240,630 1205,612 1190,580 C1172,545 1165,505 1165,468Z"/>
  <!-- man left (yellow) -->
  <path fill="#1a1a1a" d="M470,1370 H660 V1500 H470Z"/>
  <path fill="#4d4d4d" d="M480,1372 L560,1372 L545,1405Z"/>
  <path fill="#ffc425" d="M312,432 C250,455 200,480 160,500 C120,525 90,560 75,600 C68,640 70,670 72,700 L120,932 L186,868 L190,1100 L200,1500 L480,1500 L480,1378 L800,1378 L842,600 C830,560 810,520 790,500 C740,470 690,450 645,438 L515,826Z"/>
  <path fill="#f9a11b" d="M236,596 C225,650 220,700 214,750 C205,800 195,840 181,878 L190,1010 L200,1104 C240,1100 270,1095 298,1084 C275,1072 258,1058 250,1040 C240,1000 236,950 235,900 C232,850 230,800 230,750 C230,700 234,650 236,596Z"/>
  <path fill="#fff" d="M312,432 L345,420 L640,428 L645,438 L515,826Z"/>
  <path fill="#eff0f0" d="M343,440 L618,445 L515,772Z"/>
  <path fill="#603516" d="M405,360 L640,400 L602,450 L500,558 L420,470Z"/>
  <path fill="#f8f8f8" d="M352,440 L420,470 L455,510 L400,560Z M612,445 L590,470 L560,500 L585,545Z"/>
  <ellipse cx="397" cy="296" rx="25" ry="46" fill="#603516"/>
  <path fill="#603516" d="M428,205 C448,162 480,150 520,148 L620,138 C636,180 642,260 632,335 L428,335Z"/>
  <path fill="#b9bec6" d="M355,232 C348,130 420,60 520,62 C582,62 622,92 620,140 C580,152 520,140 470,152 C440,172 426,212 416,252 L382,252 C366,248 358,242 355,232Z"/>
  <path fill="#b9bec6" d="M414,262 C440,300 470,326 520,330 C560,330 600,324 632,318 C640,350 638,400 622,430 C600,446 560,450 520,446 C470,440 436,410 425,370 C417,340 413,300 414,262Z"/>
  <path fill="#b9bec6" d="M416,235 L440,205 L444,305 L424,290Z"/>
  <path fill="#603516" d="M528,350 C552,347 585,343 612,338 C602,366 556,376 528,350Z"/>
  <!-- woman (pink) -->
  <path fill="#032f44" d="M712,1300 H1150 V1500 H712Z"/>
  <path fill="#cc7fa8" d="M882,585 C820,610 760,625 720,642 C680,680 660,720 650,760 C620,840 605,920 600,1000 C590,1070 588,1130 590,1200 C600,1290 620,1370 640,1442 L726,1440 L716,1312 L1148,1312 C1160,1250 1170,1180 1165,1100 L1200,900 L1182,722 C1170,680 1155,655 1140,642 C1090,620 1040,600 1000,590 C985,630 960,652 932,652 C905,650 888,625 882,585Z"/>
  <path fill="#b9729b" d="M700,650 C675,690 658,725 650,760 C620,840 605,920 600,1000 C590,1070 588,1130 590,1200 C600,1290 620,1370 640,1442 L670,1441 C650,1370 625,1290 618,1200 C612,1130 616,1070 622,1000 C628,920 650,840 680,760 C690,720 700,690 712,655Z"/>
  <path fill="#b9729b" d="M760,890 C752,1000 735,1150 719,1302 L716,1312 L935,1314 C890,1290 820,1220 786,1116 C770,1040 762,960 760,890Z"/>
  <path fill="#c176a0" d="M985,640 L995,1312 L1003,1312 L993,640Z"/>
  <path fill="#b9729b" d="M1126,936 C1130,1010 1135,1080 1141,1140 L1185,1050 C1160,1020 1140,980 1126,936Z"/>
  <g fill="#b5428c"><circle cx="955" cy="690" r="13"/><circle cx="965" cy="808" r="13"/><circle cx="967" cy="928" r="13"/><circle cx="967" cy="1046" r="13"/><circle cx="968" cy="1165" r="13"/><circle cx="968" cy="1283" r="13"/></g>
  <path fill="#fbcfb3" d="M650,1442 L726,1440 L745,1475 L700,1480 C680,1470 660,1460 650,1442Z"/>
  <path fill="#9b9b9b" d="M800,400 C790,290 860,215 960,215 C1060,215 1126,290 1118,372 C1115,430 1100,482 1080,530 L850,530 C820,500 805,450 800,400Z"/>
  <path fill="#fbcfb3" d="M882,520 L1000,560 L1000,592 C985,630 960,652 932,652 C905,650 888,625 882,588Z"/>
  <path fill="#f0b9a0" d="M895,545 C930,575 965,585 1000,575 L1000,596 C960,600 925,590 893,568Z"/>
  <path fill="#fbcfb3" d="M850,402 C850,380 865,374 882,386 C900,350 950,322 1000,312 C1040,316 1082,342 1102,382 C1112,440 1096,500 1070,550 C1040,580 1000,592 960,586 C920,570 890,530 876,482 C860,470 850,440 850,402Z"/>
  <g fill="none" stroke="#5f80bc" stroke-width="10"><ellipse cx="975" cy="405" rx="45" ry="32"/><ellipse cx="1070" cy="412" rx="35" ry="30"/><path d="M880,395 L930,402 M1020,405 L1035,408"/></g>
  <path fill="#ae8a60" d="M1150,1320 L1100,1380 L1092,1460 L1215,1450 L1192,1370Z"/>
 </g>
  <!-- badge -->
  <circle cx="1510" cy="1196" r="360" fill="#fff"/>
  <circle cx="1510" cy="1196" r="320" fill="#00a84f"/>
  <circle cx="1445" cy="1111" r="320" fill="#52b748" clip-path="url(#oa-b)"/>
</g>
<g transform="scale(0.86,1)"><text x="1998.7 2042.5" y="1902.9" font-family="'Liberation Sans',sans-serif" font-weight="bold" font-size="79" fill="#fff">65<tspan x="2087.3" dy="-7.7" font-size="61" stroke="#fff" stroke-width="3">+</tspan></text></g>
</svg>
<div class="foot">©American Association for Cancer Research<sup>®</sup> (AACR) Cancer Progress Report 2023</div>
</body>
</html>
